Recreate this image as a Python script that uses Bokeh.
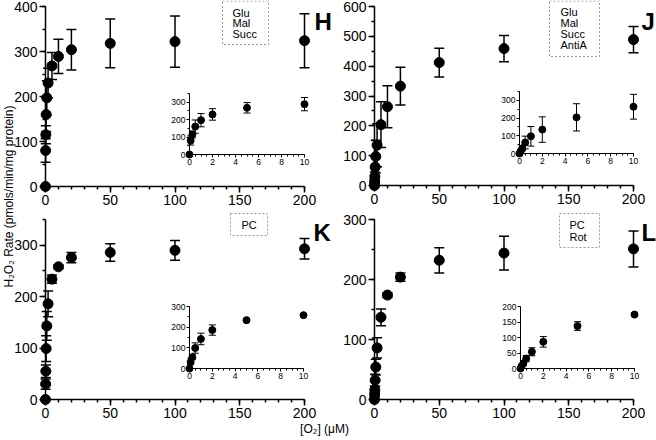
import math
from bokeh.plotting import figure
from bokeh.models import (ColumnDataSource, Whisker, TeeHead, Range1d,
                          SingleIntervalTicker)
from bokeh.embed import file_html
from bokeh.resources import INLINE
from bokeh.core.properties import value

# ---------------- data ----------------
o2_um = [0, 0.1, 0.25, 0.5, 1, 2, 5, 10, 20, 50, 100, 200]

rate_H = [0, 80, 115, 160, 197, 230, 268, 289, 304, 318, 322, 324]
err_H = [0, 26, 20, 38, 38, 33, 30, 38, 45, 54, 57, 60]

rate_J = [0, 12, 30, 62, 97, 135, 204, 264, 333, 412, 459, 489]
err_J = [0, 8, 15, 36, 55, 72, 77, 70, 63, 48, 44, 44]

rate_K = [0, 30, 55, 99, 143, 186, 234, 258, 276, 286, 290, 293]
err_K = [0, 10, 12, 25, 28, 25, 8, 4, 10, 17, 19, 20]

rate_L = [0, 8, 16, 32, 54, 86, 137, 174, 204, 232, 244, 251]
err_L = [0, 4, 6, 10, 13, 17, 14, 4, 7, 21, 28, 30]

legend_H = ["Glu", "Mal", "Succ"]
legend_J = ["Glu", "Mal", "Succ", "AntiA"]
legend_K = ["PC"]
legend_L = ["PC", "Rot"]
panel_letters = ["H", "J", "K", "L"]
y_title = "H\u2082O\u2082 Rate (pmols/min/mg protein)"
x_title = "[O\u2082] (\u03bcM)"

INSET_MAX_X = 10

# ---------------- layout ----------------
W, H = 656, 440
FONT = "Liberation Sans"


def bare_fig(xrng, yrng, l, r, t, b, axes=True):
    kw = {} if axes else dict(x_axis_type=None, y_axis_type=None)
    p = figure(width=W, height=H, x_range=xrng, y_range=yrng,
               output_backend="svg", toolbar_location=None,
               min_border_left=int(round(l)), min_border_right=int(round(W - r)),
               min_border_top=int(round(t)), min_border_bottom=int(round(H - b)),
               **kw)
    p.background_fill_color = None
    p.border_fill_color = None
    p.outline_line_color = None
    p.grid.visible = False
    return p


def panel(pad, xcal, ycal, xspec, yspec, xs, ys, es, size, tee, lw, font_size,
          tick_out, minor_out, standoff):
    """xcal=(px_of_0, px_of_ref, ref); ycal likewise; pad = data frame padding px."""
    x0, xr, xref = xcal
    sx = (xr - x0) / xref
    y0, yr, yref = ycal
    sy = (y0 - yr) / yref
    xint, xminor, xmax = xspec
    yint, yminor, ymax = yspec

    # axes figure: frame exactly on the axis extent
    fa = bare_fig(Range1d(0, xmax), Range1d(0, ymax),
                  x0, x0 + sx * xmax, y0 - sy * ymax, y0)
    for ax, interval, nminor in ((fa.xaxis, xint, xminor), (fa.yaxis, yint, yminor)):
        ax.ticker = SingleIntervalTicker(interval=interval, num_minor_ticks=nminor)
        ax.axis_line_width = lw
        ax.axis_line_color = "black"
        ax.major_tick_line_width = lw
        ax.minor_tick_line_width = lw
        ax.major_tick_line_color = "black"
        ax.minor_tick_line_color = "black"
        ax.major_tick_in = 0
        ax.minor_tick_in = 0
        ax.major_tick_out = tick_out
        ax.minor_tick_out = minor_out
        ax.major_label_text_font = FONT
        ax.major_label_text_font_size = font_size
        ax.major_label_text_color = "black"
        ax.major_label_standoff = standoff

    # data figure: same scales, padded frame so edge markers are not clipped
    l, r = x0 - pad, x0 + sx * xmax + pad
    t, b = y0 - sy * ymax - pad, y0 + pad
    fd = bare_fig(Range1d(-pad / sx, xmax + pad / sx),
                  Range1d(-pad / sy, ymax + pad / sy), l, r, t, b, axes=False)
    src = ColumnDataSource(dict(x=xs, y=ys))
    wx = [x for x, e in zip(xs, es) if e > 0]
    wy = [y for y, e in zip(ys, es) if e > 0]
    we = [e for e in es if e > 0]
    wsrc = ColumnDataSource(dict(x=wx, upper=[a + e for a, e in zip(wy, we)],
                                 lower=[a - e for a, e in zip(wy, we)]))
    wh = Whisker(source=wsrc, base="x", upper="upper", lower="lower",
                 line_color="black", line_width=lw,
                 upper_head=TeeHead(size=tee, line_width=lw, line_color="black"),
                 lower_head=TeeHead(size=tee, line_width=lw, line_color="black"))
    fd.add_layout(wh)
    fd.scatter(x="x", y="y", source=src, size=size, color="black")
    return [fa, fd]


def inset_data(rates, errs):
    xs = [x for x in o2_um if x <= INSET_MAX_X]
    n = len(xs)
    return xs, rates[:n], errs[:n]


main_style = dict(pad=6, size=10, tee=10, lw=1.5, font_size="14px", tick_out=6,
                  minor_out=3, standoff=2)
inset_style = dict(pad=5, size=7, tee=7, lw=1.0, font_size="8.5px", tick_out=3,
                   minor_out=2, standoff=1)

figs = []
# main panels
figs += panel(xcal=(45, 304, 200), ycal=(185.5, 6, 400),
              xspec=(50, 5, 200), yspec=(100, 2, 400),
              xs=o2_um, ys=rate_H, es=err_H, **main_style)
figs += panel(xcal=(374, 633, 200), ycal=(185.3, 6, 600),
              xspec=(50, 5, 200), yspec=(100, 2, 600),
              xs=o2_um, ys=rate_J, es=err_J, **main_style)
figs += panel(xcal=(45, 304, 200), ycal=(399, 245, 300),
              xspec=(50, 5, 200), yspec=(100, 2, 350),
              xs=o2_um, ys=rate_K, es=err_K, **main_style)
figs += panel(xcal=(374, 633, 200), ycal=(399, 219, 300),
              xspec=(50, 5, 200), yspec=(100, 2, 300),
              xs=o2_um, ys=rate_L, es=err_L, **main_style)
# insets
for xcal, ycal, yspec, rates, errs in (
        ((189, 304, 10), (154, 102, 300), (100, 2, 350), rate_H, err_H),
        ((519, 633, 10), (153, 100, 300), (100, 2, 350), rate_J, err_J),
        ((189, 303, 10), (368, 306, 300), (100, 2, 300), rate_K, err_K),
        ((520, 634, 10), (368, 306, 200), (50, 0, 200), rate_L, err_L)):
    xs, ys, es = inset_data(rates, errs)
    figs += panel(xcal=xcal, ycal=ycal, xspec=(2, 4, 10), yspec=yspec,
                  xs=xs, ys=ys, es=es, **inset_style)

# overlay for titles, legends and panel letters (pixel coordinates)
ov = bare_fig(Range1d(0, W), Range1d(H, 0), 0, W, 0, H, axes=False)

ov.text(x=[8], y=[196], text=[y_title], angle=math.pi / 2,
        text_font=value(FONT), text_font_size="12px", text_color="black",
        text_align="center", text_baseline="middle")
ov.text(x=[324], y=[428], text=[x_title],
        text_font=value(FONT), text_font_size="12px", text_color="black",
        text_align="center", text_baseline="middle")

ov.text(x=[314, 641, 313, 641], y=[21, 21, 232, 232], text=panel_letters,
        text_font=value(FONT), text_font_size="24px", text_font_style="bold",
        text_color="black", text_align="left", text_baseline="alphabetic")

boxes = dict(left=[222, 549, 230, 559], right=[268, 599, 267, 599],
             top=[0.5, 0.5, 213, 213], bottom=[44, 56, 235, 247])
ov.quad(**boxes, fill_color=None, line_color="#9a9a9a", line_dash="2 2",
        line_width=1)

leg_x, leg_y, leg_t = [], [], []
for x0, ys, items in ((232, [12, 22.5, 33], legend_H),
                      (560, [11, 22, 33.5, 44.5], legend_J),
                      (241, [224], legend_K),
                      (569, [224, 236], legend_L)):
    for yy, tt in zip(ys, items):
        leg_x.append(x0)
        leg_y.append(yy)
        leg_t.append(tt)
ov.text(x=leg_x, y=leg_y, text=leg_t, text_font=value(FONT),
        text_font_size="11px", text_color="black", text_align="left",
        text_baseline="middle")
figs.append(ov)

for f in figs:
    f.styles = {"position": "absolute", "left": "0px", "top": "0px"}

open("out.html", "w").write(file_html(figs, INLINE))
